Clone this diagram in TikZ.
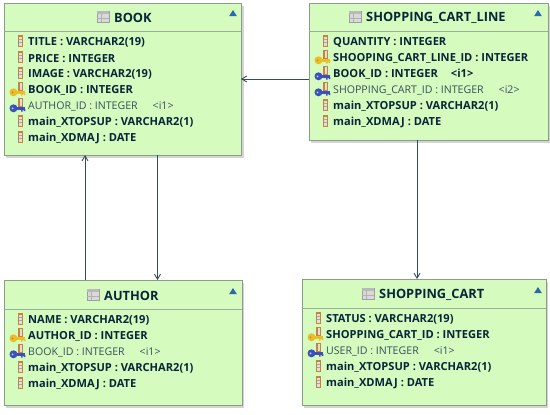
\documentclass[tikz,border=0pt]{standalone}
\usepackage{fontspec}
\setmainfont{Open Sans}
\usetikzlibrary{arrows.meta}
\definecolor{fillg}{RGB}{213,251,190}
\definecolor{edgeg}{RGB}{140,155,140}
\definecolor{shadowg}{RGB}{212,212,212}
\definecolor{ink}{RGB}{8,38,58}
\definecolor{thin}{RGB}{55,80,95}
\definecolor{wire}{RGB}{50,76,95}
\definecolor{tri}{RGB}{45,105,170}
\definecolor{gold}{RGB}{235,190,40}
\definecolor{bluek}{RGB}{60,80,185}
\definecolor{stemc}{RGB}{200,130,60}
\tikzset{
  x=1pt,y=-1pt,
  tablebox/.style={draw=edgeg,line width=0.9pt,fill=fillg,anchor=north west,inner sep=0pt,outer sep=0pt},
  divider/.style={draw=edgeg!80!fillg,line width=0.7pt},
  title/.style={font=\fontsize{12.8}{13}\selectfont\bfseries,text=ink,anchor=west,inner sep=0pt},
  pk/.style={font=\fontsize{11.1}{13}\selectfont\bfseries,text=ink,anchor=west,inner sep=0pt,yshift=-1.5pt},
  plain/.style={font=\fontsize{10.6}{13}\selectfont,text=thin,anchor=west,inner sep=0pt,yshift=-1.5pt},
  conn/.style={draw=wire,line width=1pt,-{Straight Barb[length=5pt,width=6pt,line width=0.9pt]}},
  coltop/.pic={
    \fill[stemc] (-2.8,-6) rectangle (2.8,6);
    \fill[gray!25] (-1.3,-4.5) rectangle (1.8,4.5);
    \draw[gray!70,line width=0.4pt] (-1.3,-1.5) -- (1.8,-1.5) (-1.3,1.5) -- (1.8,1.5);
  },
  goldkey/.pic={
    \fill[stemc] (1.5,-8) rectangle (6.5,1);
    \fill[gray!25] (3,-7) rectangle (5.2,0);
    \fill[gold] (-3,2.3) circle[radius=4pt];
    \fill[gold] (-1,0.6) rectangle (8.8,4);
    \fill[gold] (4.5,3) rectangle (6.2,5.6) (7,3) rectangle (8.8,5);
    \fill[stemc] (-4,2.3) circle[radius=1pt];
  },
  bluekey/.pic={
    \fill[stemc] (1.5,-8) rectangle (6.5,1);
    \fill[gray!25] (3,-7) rectangle (5.2,0);
    \fill[bluek] (-3,2.3) circle[radius=4pt];
    \fill[bluek] (-1,0.6) rectangle (8.8,4);
    \fill[bluek] (4.5,3) rectangle (6.2,5.6) (7,3) rectangle (8.8,5);
    \fill[blue!20] (-4,2.3) circle[radius=1pt];
  },
  tableicon/.pic={
    \fill[gray!30] (0,0) rectangle (12,11);
    \draw[gray!75,line width=0.7pt] (0,0) rectangle (12,11);
    \fill[gray!55] (0,0) rectangle (12,3);
    \draw[gray!60,line width=0.4pt] (4,3) -- (4,11) (0,7) -- (12,7);
  },
  collapse/.pic={\fill[tri] (-3.8,3) -- (0,-3) -- (3.8,3) -- cycle;},
}
\begin{document}
\begin{tikzpicture}
\useasboundingbox (0,0) rectangle (550,415);
% shadows
\fill[shadowg] (6,6) rectangle (243.5,157.5);
\fill[shadowg] (311,6) rectangle (550,142.5);
\fill[shadowg] (6,283) rectangle (244,407.5);
\fill[shadowg] (304,282) rectangle (548,407.5);
% boxes
\node[tablebox,minimum width=237pt,minimum height=152pt] (book) at (4,3) {};
\node[tablebox,minimum width=239pt,minimum height=137pt] (line) at (309,3) {};
\node[tablebox,minimum width=238pt,minimum height=125pt] (author) at (4,280) {};
\node[tablebox,minimum width=244pt,minimum height=126pt] (cart) at (302,279) {};
\draw[divider] (4,31) -- (241,31);
\draw[divider] (309,31) -- (548,31);
\draw[divider] (4,309) -- (242,309);
\draw[divider] (302,308) -- (546,308);
% titles
\node[title] (tbook) at (114,18) {BOOK};
\node[title] (tline) at (366,18) {SHOPPING\_CART\_LINE};
\node[title] (tauthor) at (104,296) {AUTHOR};
\node[title] (tcart) at (379,295) {SHOPPING\_CART};
\pic at (97,11) {tableicon};
\pic at (349,11) {tableicon};
\pic at (87,289) {tableicon};
\pic at (362,288) {tableicon};
\pic at (233,13) {collapse};
\pic at (538,13) {collapse};
\pic at (233,291) {collapse};
\pic at (538,290) {collapse};
% BOOK rows
\node[pk] (b1) at (28,41) {TITLE : VARCHAR2(19)};
\node[pk] (b2) at (28,57) {PRICE : INTEGER};
\node[pk] (b3) at (28,73) {IMAGE : VARCHAR2(19)};
\node[pk] (b4) at (28,89) {BOOK\_ID : INTEGER};
\node[plain] (b5) at (28,105) {AUTHOR\_ID : INTEGER\hspace{15pt}<i1>};
\node[pk] (b6) at (28,121) {main\_XTOPSUP : VARCHAR2(1)};
\node[pk] (b7) at (28,137) {main\_XDMAJ : DATE};
\pic at (20.5,41) {coltop};
\pic at (20.5,57) {coltop};
\pic at (20.5,73) {coltop};
\pic at (16.5,90) {goldkey};
\pic at (16.5,106) {bluekey};
\pic at (20.5,121) {coltop};
\pic at (20.5,137) {coltop};
% LINE rows
\node[pk] (l1) at (333,41) {QUANTITY : INTEGER};
\node[pk] (l2) at (333,57) {SHOOPING\_CART\_LINE\_ID : INTEGER};
\node[pk] (l3) at (333,73) {BOOK\_ID : INTEGER\hspace{13pt}<i1>};
\node[plain] (l4) at (333,89) {SHOPPING\_CART\_ID : INTEGER\hspace{15pt}<i2>};
\node[pk] (l5) at (333,105) {main\_XTOPSUP : VARCHAR2(1)};
\node[pk] (l6) at (333,121) {main\_XDMAJ : DATE};
\pic at (325.5,41) {coltop};
\pic at (321.5,58) {goldkey};
\pic at (321.5,74) {bluekey};
\pic at (321.5,90) {bluekey};
\pic at (325.5,105) {coltop};
\pic at (325.5,121) {coltop};
% AUTHOR rows
\node[pk] (a1) at (28,319) {NAME : VARCHAR2(19)};
\node[pk] (a2) at (28,335) {AUTHOR\_ID : INTEGER};
\node[plain] (a3) at (28,351) {BOOK\_ID : INTEGER\hspace{15pt}<i1>};
\node[pk] (a4) at (28,367) {main\_XTOPSUP : VARCHAR2(1)};
\node[pk] (a5) at (28,383) {main\_XDMAJ : DATE};
\pic at (20.5,319) {coltop};
\pic at (16.5,336) {goldkey};
\pic at (16.5,352) {bluekey};
\pic at (20.5,367) {coltop};
\pic at (20.5,383) {coltop};
% CART rows
\node[pk] (c1) at (326,318) {STATUS : VARCHAR2(19)};
\node[pk] (c2) at (326,334) {SHOPPING\_CART\_ID : INTEGER};
\node[plain] (c3) at (326,350) {USER\_ID : INTEGER\hspace{15pt}<i1>};
\node[pk] (c4) at (326,366) {main\_XTOPSUP : VARCHAR2(1)};
\node[pk] (c5) at (326,382) {main\_XDMAJ : DATE};
\pic at (318.5,318) {coltop};
\pic at (314.5,335) {goldkey};
\pic at (314.5,351) {bluekey};
\pic at (318.5,366) {coltop};
\pic at (318.5,382) {coltop};
% connectors
\coordinate (cy) at (0,79);
\coordinate (xa) at (85,0);
\coordinate (xb) at (157.5,0);
\coordinate (xc) at (417,0);
\draw[conn] (line.west |- cy) -- (book.east |- cy);
\draw[conn] (author.north -| xa) -- (book.south -| xa);
\draw[conn] (book.south -| xb) -- (author.north -| xb);
\draw[conn] (line.south -| xc) -- (cart.north -| xc);
\end{tikzpicture}
\end{document}
